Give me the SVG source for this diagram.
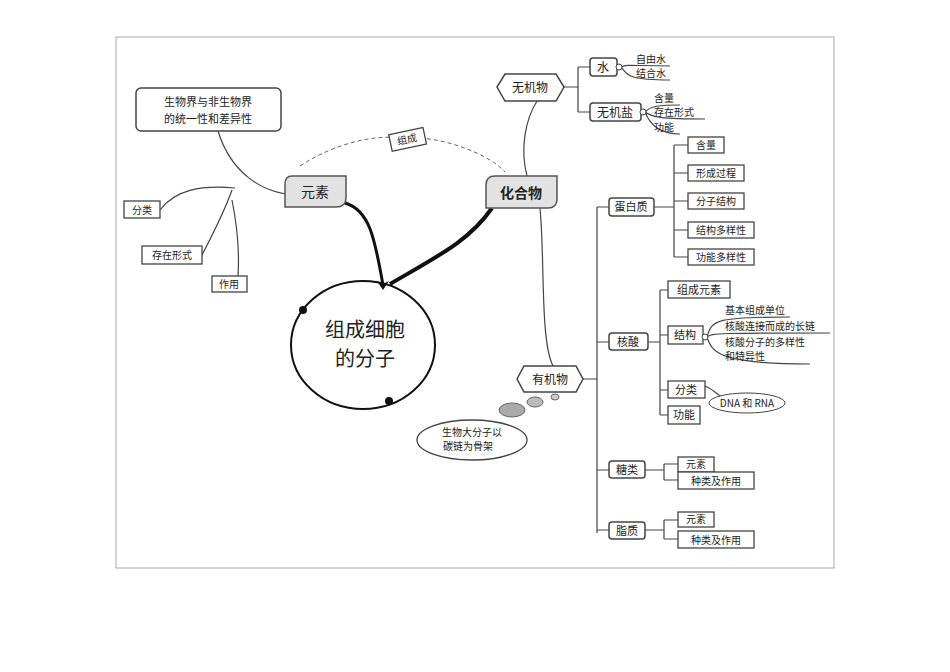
<svg xmlns="http://www.w3.org/2000/svg" width="950" height="672" viewBox="0 0 950 672">
<style>
text{font-family:"Noto Sans CJK SC","Liberation Serif",serif;fill:#222}
.b{fill:#fff;stroke:#444;stroke-width:1.5}
.r{fill:#fff;stroke:#444;stroke-width:1.3}
.g{fill:#e2e2e2;stroke:#555;stroke-width:1.5}
.l{fill:none;stroke:#444;stroke-width:1.2}
.s{font-size:11px}
.m{font-size:12px}
.t{font-size:10px}
</style>
<rect width="950" height="672" fill="#fff"/>
<rect x="116" y="37" width="718" height="531" fill="none" stroke="#aaa"/>
<g id="connectors">
<path class="l" d="M218,131 C230,170 260,195 300,195"/>
<path class="l" d="M160,210 C175,190 200,185 235,188"/>
<path class="l" d="M202,255 C215,230 225,210 232,190"/>
<path class="l" d="M238,276 C240,245 235,215 232,200"/>
<path d="M300,166 C340,140 380,135 400,138 M420,138 C450,140 490,155 505,172" fill="none" stroke="#666" stroke-dasharray="4,3"/>
<path d="M345,203 C370,210 375,240 383,285" fill="none" stroke="#111" stroke-width="3"/>
<path d="M492,208 C470,240 440,255 390,284" fill="none" stroke="#111" stroke-width="4"/>
<path d="M383,290 l-6,-9 6,3 6,-3z" fill="#111"/>
<path class="l" d="M527,176 C520,150 525,120 537,101" stroke-width="1.8"/>
<path class="l" d="M540,208 C545,260 540,340 553,366" stroke-width="1.6"/>
<path class="l" d="M563,87 H578 M578,67 V112 M578,67 H590 M578,112 H590"/>
<path class="l" d="M621,67 C628,64 630,66 670,66 M621,67 C628,76 630,80 670,80"/>
<path class="l" d="M645,112 C650,106 660,105 680,105 M645,112 C652,117 660,119 705,119 M645,112 C650,125 660,134 680,134"/>
<path class="l" d="M583,379 H597 M597,207 V533 M597,207 H609 M597,342 H609 M597,470 H609 M597,530 H609"/>
<path class="l" d="M654,207 H674 M674,145 V257 M674,145 H688 M674,173 H688 M674,201 H688 M674,230 H688 M674,257 H688"/>
<path class="l" d="M648,342 H660 M660,290 V415 M660,290 H668 M660,335 H668 M660,390 H668 M660,415 H668"/>
<path class="l" d="M707,337 C712,320 715,317 790,317 M707,337 C712,333 720,333 830,333 M707,337 C712,352 718,364 810,364"/>
<path class="l" d="M705,386 C715,390 720,398 725,398"/>
<path class="l" d="M645,470 H664 M664,464 V480 M664,464 H678 M664,480 H678"/>
<path class="l" d="M645,530 H664 M664,520 V539 M664,520 H678 M664,539 H678"/>
</g>
<g id="n-tongyi"><rect class="b" x="136" y="88" width="145" height="43" rx="5"/><text class="s" x="208" y="106" text-anchor="middle">生物界与非生物界</text><text class="s" x="208" y="123" text-anchor="middle">的统一性和差异性</text></g>
<g id="n-fenlei"><rect class="r" x="124" y="201" width="36" height="17"/><text class="t" x="142" y="214" text-anchor="middle">分类</text></g>
<g id="n-cunzai"><rect class="r" x="142" y="246" width="60" height="18"/><text class="t" x="172" y="259" text-anchor="middle">存在形式</text></g>
<g id="n-zuoyong"><rect class="r" x="212" y="276" width="35" height="16"/><text class="t" x="229" y="288" text-anchor="middle">作用</text></g>
<g id="n-zucheng"><rect class="r" x="390" y="131" width="35" height="17" transform="rotate(-12 407 139)" fill="#eee"/><text class="t" x="407" y="143" text-anchor="middle" transform="rotate(-12 407 139)">组成</text></g>
<g id="n-yuansu"><path class="g" d="M292,176 H346 V198 Q346,207 336,207 H285 V184 Q285,176 292,176Z"/><text x="315" y="197" font-size="14" text-anchor="middle">元素</text></g>
<g id="n-huahewu"><path class="g" d="M495,176 H557 V199 Q557,208 548,208 H486 V185 Q486,176 495,176Z"/><text x="521" y="198" font-size="14" font-weight="bold" text-anchor="middle">化合物</text></g>
<g id="n-center"><ellipse cx="363" cy="345" rx="72" ry="64" fill="none" stroke="#111" stroke-width="2"/><circle cx="303" cy="310" r="4" fill="#111"/><circle cx="389" cy="401" r="4" fill="#111"/><text x="365" y="337" font-size="20" text-anchor="middle">组成细胞</text><text x="365" y="366" font-size="20" text-anchor="middle">的分子</text></g>
<g id="n-wujiwu"><path class="b" d="M505,74 H556 L564,87 556,101 H505 L497,87Z"/><text x="530" y="92" class="m" text-anchor="middle">无机物</text></g>
<g id="n-shui"><rect class="b" x="590" y="58" width="27" height="18" rx="3"/><text class="m" x="603" y="72" text-anchor="middle">水</text><circle cx="619" cy="67" r="3" fill="#fff" stroke="#444"/></g>
<g id="n-wujiyan"><rect class="b" x="590" y="103" width="51" height="18" rx="3"/><text class="m" x="615" y="117" text-anchor="middle">无机盐</text><circle cx="643" cy="112" r="3" fill="#fff" stroke="#444"/></g>
<g id="n-water-sub"><text class="t" x="636" y="63">自由水</text><text class="t" x="636" y="77">结合水</text><text class="t" x="654" y="102">含量</text><text class="t" x="654" y="116">存在形式</text><text class="t" x="654" y="131">功能</text></g>
<g id="n-youjiwu"><path class="b" d="M524,366 H576 L583,379 576,392 H524 L517,379Z"/><text x="550" y="384" class="m" text-anchor="middle">有机物</text></g>
<g id="n-bubble"><ellipse cx="512" cy="410" rx="13" ry="7" fill="#aaa" stroke="#666"/><ellipse cx="535" cy="402" rx="8" ry="5" fill="#bbb" stroke="#666"/><ellipse cx="555" cy="397" rx="4" ry="3" fill="#ccc" stroke="#666"/><ellipse cx="472" cy="440" rx="55" ry="20" fill="#fff" stroke="#444" stroke-width="1.3"/><text class="t" x="472" y="436" text-anchor="middle">生物大分子以</text><text class="t" x="468" y="450" text-anchor="middle">碳链为骨架</text></g>
<g id="n-danbai"><rect class="b" x="609" y="198" width="45" height="18" rx="3"/><text class="s" x="631" y="211" text-anchor="middle">蛋白质</text></g>
<g id="n-danbai-sub"><rect class="r" x="688" y="137" width="36" height="16"/><text class="t" x="706" y="149" text-anchor="middle">含量</text><rect class="r" x="688" y="165" width="56" height="16"/><text class="t" x="716" y="177" text-anchor="middle">形成过程</text><rect class="r" x="688" y="193" width="56" height="16"/><text class="t" x="716" y="205" text-anchor="middle">分子结构</text><rect class="r" x="688" y="222" width="66" height="16"/><text class="t" x="721" y="234" text-anchor="middle">结构多样性</text><rect class="r" x="688" y="249" width="66" height="16"/><text class="t" x="721" y="261" text-anchor="middle">功能多样性</text></g>
<g id="n-hesuan"><rect class="b" x="609" y="333" width="39" height="17" rx="3"/><text class="s" x="628" y="346" text-anchor="middle">核酸</text></g>
<g id="n-hesuan-sub"><rect class="r" x="668" y="281" width="62" height="17"/><text class="s" x="699" y="294" text-anchor="middle">组成元素</text><rect class="r" x="668" y="326" width="35" height="18"/><text class="s" x="685" y="339" text-anchor="middle">结构</text><circle cx="705" cy="337" r="3" fill="#fff" stroke="#444"/><rect class="r" x="668" y="381" width="37" height="17"/><text class="s" x="686" y="394" text-anchor="middle">分类</text><rect class="r" x="668" y="406" width="32" height="18"/><text class="s" x="684" y="419" text-anchor="middle">功能</text><text class="t" x="725" y="314">基本组成单位</text><text class="t" x="725" y="330">核酸连接而成的长链</text><text class="t" x="725" y="346">核酸分子的多样性</text><text class="t" x="725" y="360">和特异性</text><ellipse cx="747" cy="403" rx="38" ry="10" fill="#fff" stroke="#444"/><text class="t" x="747" y="407" text-anchor="middle" font-family="Liberation Serif,Noto Sans CJK SC,serif">DNA 和 RNA</text></g>
<g id="n-tanglei"><rect class="b" x="609" y="461" width="36" height="17" rx="3"/><text class="s" x="627" y="474" text-anchor="middle">糖类</text><rect class="r" x="678" y="457" width="36" height="15"/><text class="t" x="696" y="468" text-anchor="middle">元素</text><rect class="r" x="678" y="472" width="76" height="17"/><text class="t" x="716" y="485" text-anchor="middle">种类及作用</text></g>
<g id="n-zhizhi"><rect class="b" x="609" y="522" width="36" height="17" rx="3"/><text class="s" x="627" y="535" text-anchor="middle">脂质</text><rect class="r" x="678" y="512" width="36" height="15"/><text class="t" x="696" y="523" text-anchor="middle">元素</text><rect class="r" x="678" y="531" width="76" height="17"/><text class="t" x="716" y="544" text-anchor="middle">种类及作用</text></g>
</svg>
